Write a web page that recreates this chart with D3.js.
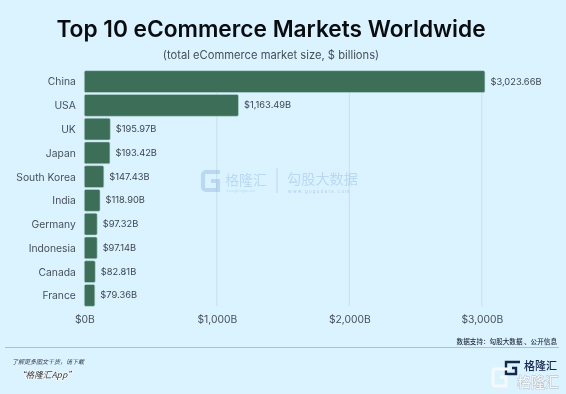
<!DOCTYPE html>
<html>
<head>
<meta charset="utf-8">
<script src="https://cdn.jsdelivr.net/npm/d3@7"></script>
<style>
    html, body { margin: 0; padding: 0; background: #dbf3ff; }
    svg { display: block; filter: blur(0.35px); }
    text { font-family: Inter, "Noto Sans CJK SC", sans-serif; }
    .cjk { font-family: "Noto Sans CJK SC", sans-serif; }
</style>
</head>
<body>
<div id="chart"></div>
<script>
const countries = ["China", "USA", "UK", "Japan", "South Korea", "India", "Germany", "Indonesia", "Canada", "France"];
const marketSize = [3023.66, 1163.49, 195.97, 193.42, 147.43, 118.90, 97.32, 97.14, 82.81, 79.36];
const xTicks = [0, 1000, 2000, 3000];

const width = 566;
const height = 394;

const svg = d3.select("#chart")
    .append("svg")
    .attr("width", width)
    .attr("height", height);

const xScale = d3.scaleLinear()
    .domain([0, 3000])
    .range([84.3, 481.8]);

const yScale = d3.scaleBand()
    .domain(countries)
    .range([69.7, 307.3])
    .paddingInner(0.08)
    .paddingOuter(0.04);

// Title and subtitle
svg.append("text")
    .attr("x", 271)
    .attr("y", 37.3)
    .attr("text-anchor", "middle")
    .attr("font-size", 22.7)
    .attr("font-weight", 600)
    .attr("fill", "#0a0d10")
    .text("Top 10 eCommerce Markets Worldwide");

svg.append("text")
    .attr("x", 271)
    .attr("y", 59)
    .attr("text-anchor", "middle")
    .attr("font-size", 11.2)
    .attr("fill", "#444f57")
    .text("(total eCommerce market size, $ billions)");

// Gridlines
svg.append("g")
    .selectAll("line")
    .data(xTicks.slice(1))
    .enter().append("line")
    .attr("x1", d => xScale(d))
    .attr("x2", d => xScale(d))
    .attr("y1", 70)
    .attr("y2", 306)
    .attr("stroke", "#c6dfec")
    .attr("stroke-width", 1);

drawWatermark();

// Bars
svg.append("g")
    .selectAll("rect")
    .data(countries)
    .enter().append("rect")
    .attr("x", xScale(0))
    .attr("y", d => yScale(d))
    .attr("width", (d, i) => xScale(marketSize[i]) - xScale(0))
    .attr("height", yScale.bandwidth())
    .attr("rx", 1.5)
    .attr("fill", "#3c6e58")
    .attr("stroke", "#b5d8d8")
    .attr("stroke-width", 0.6);

// Value labels
svg.append("g")
    .selectAll("text")
    .data(countries)
    .enter().append("text")
    .attr("x", (d, i) => xScale(marketSize[i]) + 5.5)
    .attr("y", d => yScale(d) + yScale.bandwidth() / 2 - 0.3)
    .attr("dy", "0.35em")
    .attr("font-size", 9.3)
    .attr("fill", "#3d474e")
    .text((d, i) => "$" + d3.format(",.2f")(marketSize[i]) + "B");

// Category labels
const yAxis = d3.axisLeft(yScale).tickSize(0).tickPadding(8.5);
const yAxisG = svg.append("g")
    .attr("transform", "translate(" + xScale(0) + ",0.6)")
    .call(yAxis);
yAxisG.select(".domain").remove();
yAxisG.selectAll("text")
    .attr("font-family", "Inter")
    .attr("font-size", 10.3)
    .attr("fill", "#475159");

// Bottom axis labels
const xAxis = d3.axisBottom(xScale)
    .tickValues(xTicks)
    .tickSize(0)
    .tickPadding(10)
    .tickFormat(d => "$" + d3.format(",")(d) + "B");
const xAxisG = svg.append("g")
    .attr("transform", "translate(0,306)")
    .call(xAxis);
xAxisG.select(".domain").remove();
xAxisG.selectAll("text")
    .attr("font-family", "Inter")
    .attr("font-size", 10.3)
    .attr("fill", "#475159");

// Footer
svg.append("line")
    .attr("x1", 5)
    .attr("x2", 559)
    .attr("y1", 347.5)
    .attr("y2", 347.5)
    .attr("stroke", "#9db4c6")
    .attr("stroke-width", 0.8);

svg.append("text")
    .attr("class", "cjk")
    .attr("x", 557)
    .attr("y", 344)
    .attr("text-anchor", "end")
    .attr("font-size", 6.6)
    .attr("font-weight", 500)
    .attr("fill", "#1f2a33")
    .text("数据支持：勾股大数据 、公开信息");

svg.append("text")
    .attr("class", "cjk")
    .attr("x", 12)
    .attr("y", 364)
    .attr("font-size", 6)
    .attr("font-style", "italic")
    .attr("fill", "#39424a")
    .text("了解更多图文干货，请下载");

svg.append("text")
    .attr("class", "cjk")
    .attr("x", 17)
    .attr("y", 378)
    .attr("font-size", 8.6)
    .attr("font-style", "italic")
    .attr("fill", "#2d353c")
    .attr("stroke", "#ffffff")
    .attr("stroke-width", 1.2)
    .attr("paint-order", "stroke")
    .text("“格隆汇App”");

drawFooterLogo();

function drawWatermark() {
    const mark = svg.append("g").attr("opacity", 0.3);
    mark.append("path")
        .attr("d", "M220 172h-14a3 3 0 0 0-3 3v12a3 3 0 0 0 3 3h12v-9h-7")
        .attr("fill", "none")
        .attr("stroke", "#6e9fd0")
        .attr("stroke-width", 4.2);
    mark.append("text")
        .attr("class", "cjk")
        .attr("x", 225)
        .attr("y", 184.5)
        .attr("font-size", 14)
        .attr("fill", "#6e9fd0")
        .text("格隆汇");
    mark.append("text")
        .attr("x", 226)
        .attr("y", 192)
        .attr("font-size", 3)
        .attr("fill", "#6e9fd0")
        .text("www.gelonghui.com");
    mark.append("line")
        .attr("x1", 277)
        .attr("x2", 277)
        .attr("y1", 168)
        .attr("y2", 193)
        .attr("stroke", "#6e9fd0");
    mark.append("text")
        .attr("class", "cjk")
        .attr("x", 287)
        .attr("y", 184)
        .attr("font-size", 14.2)
        .attr("fill", "#6e9fd0")
        .text("勾股大数据");
    mark.append("text")
        .attr("x", 288)
        .attr("y", 193)
        .attr("font-size", 4.4)
        .attr("letter-spacing", 1.3)
        .attr("fill", "#3f78b5")
        .text("www.gogudata.com");
}

function drawFooterLogo() {
    const dark = svg.append("g");
    dark.append("path")
        .attr("d", "M520 362h-14v12h10v-6h-4")
        .attr("fill", "none")
        .attr("stroke", "#16264a")
        .attr("stroke-width", 2.4);
    dark.append("text")
        .attr("class", "cjk")
        .attr("x", 524)
        .attr("y", 369.5)
        .attr("font-size", 11)
        .attr("font-weight", 500)
        .attr("fill", "#16264a")
        .text("格隆汇");
    const light = svg.append("g");
    light.append("path")
        .attr("d", "M509 369h-14a2 2 0 0 0-2 2v13a2 2 0 0 0 2 2h11v-9h-6")
        .attr("fill", "none")
        .attr("stroke", "#f6f9fb")
        .attr("stroke-width", 2.8);
    light.append("text")
        .attr("class", "cjk")
        .attr("x", 517)
        .attr("y", 387)
        .attr("font-size", 14)
        .attr("fill", "#f6f9fb")
        .attr("stroke", "#aeb9c2")
        .attr("stroke-width", 0.8)
        .attr("paint-order", "stroke")
        .text("格隆汇");
}
</script>
</body>
</html>
